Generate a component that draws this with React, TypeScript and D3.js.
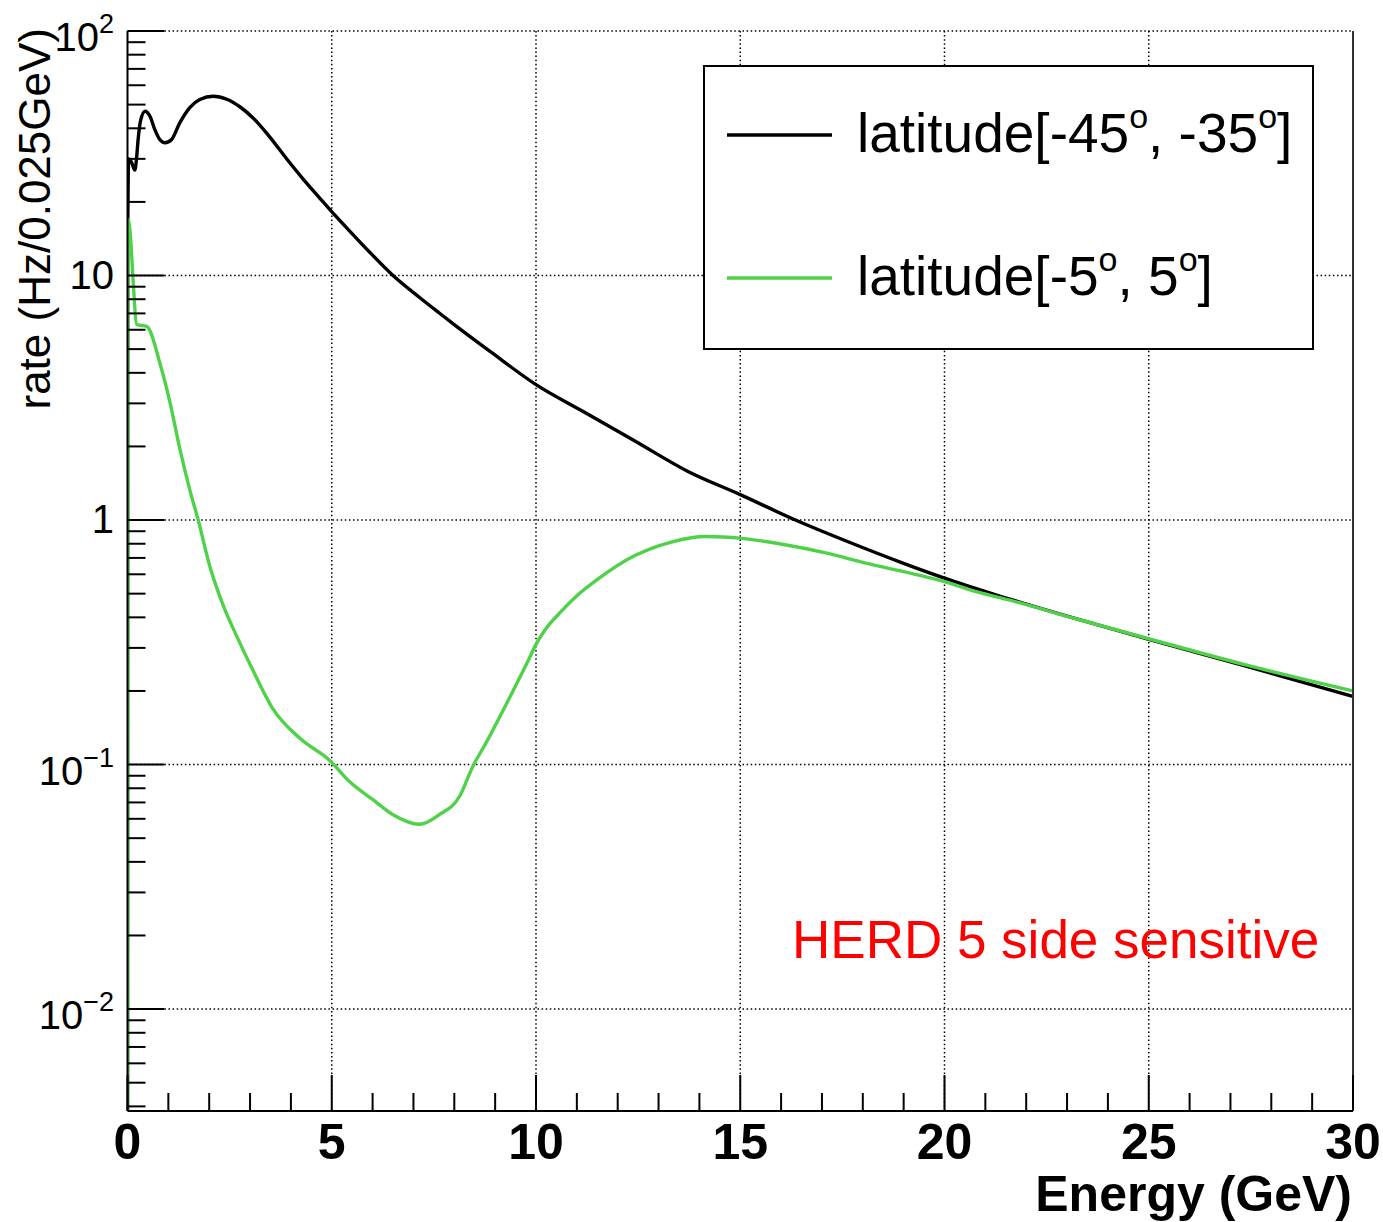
import React, { useEffect, useRef } from 'react';
import * as d3 from 'd3';

// latitude [-45, -35] (black)
const energyBlack = [0, 0.005, 0.03, 0.1, 0.18, 0.22, 0.26, 0.32, 0.43, 0.55, 0.67, 0.79, 0.92, 1.08, 1.28, 1.53, 1.77, 2.1, 2.43, 2.75, 3.08, 3.48, 3.89, 4.3, 4.71, 5.11, 5.52, 5.93, 6.5, 7.15, 7.64, 8.03, 8.9, 10.0, 11.1, 12.41, 13.72, 15.0, 16.35, 17.67, 18.98, 20.0, 21.2, 23.28, 25.0, 27.4, 30.0];
const rateBlack = [0.001, 14, 30, 29, 27, 30, 36, 43, 47, 44.8, 39.5, 36, 34.9, 36, 42.1, 48.7, 52.5, 54.1, 52.6, 49.0, 44.0, 36.9, 30.1, 24.8, 20.7, 17.4, 14.7, 12.45, 10.0, 8.13, 7.01, 6.24, 4.86, 3.58, 2.81, 2.11, 1.58, 1.27, 1.0, 0.811, 0.667, 0.579, 0.498, 0.392, 0.325, 0.252, 0.19];

// latitude [-5, 5] (green)
const energyGreen = [0, 0.005, 0.08, 0.13, 0.23, 0.47, 0.8, 1.04, 1.28, 1.53, 1.73, 2.02, 2.34, 2.67, 3.07, 3.56, 4.22, 4.95, 5.44, 6.0, 6.49, 7.15, 7.64, 8.13, 8.45, 8.78, 9.34, 9.78, 10.0, 10.22, 10.6, 11.0, 11.53, 12.41, 13.29, 14.16, 15.04, 16.06, 17.09, 18.1, 19.0, 19.96, 20.8, 21.6, 23.28, 25.0, 27.4, 30.0];
const rateGreen = [0.001, 17, 14, 10, 6.3, 6.2, 4.34, 3.03, 1.96, 1.32, 1.0, 0.643, 0.449, 0.336, 0.243, 0.169, 0.128, 0.104, 0.085, 0.072, 0.0625, 0.057, 0.0625, 0.0742, 0.098, 0.123, 0.186, 0.26, 0.31, 0.355, 0.42, 0.49, 0.576, 0.714, 0.811, 0.856, 0.841, 0.794, 0.734, 0.665, 0.615, 0.562, 0.508, 0.47, 0.392, 0.327, 0.255, 0.2];

const xTickValues = [0, 5, 10, 15, 20, 25, 30];
const yTickValues = [100, 10, 1, 0.1, 0.01];
const yTickBase = ['10', '10', '1', '10', '10'];
const yTickExp = ['2', '', '', '\u22121', '\u22122'];

const seriesNames = [
  [['latitude[-45', false], ['o', true], [', -35', false], ['o', true], [']', false]],
  [['latitude[-5', false], ['o', true], [', 5', false], ['o', true], [']', false]],
];
const seriesColors = ['#000000', '#4fd24a'];

const FONT = '"Liberation Sans", Arial, Helvetica, sans-serif';

const App = () => {
  const svgRef = useRef(null);

  useEffect(() => {
    const svg = d3.select(svgRef.current);
    svg.selectAll('*').remove();

    const left = 127.5, right = 1353, top = 31, bottom = 1111;

    const x = d3.scaleLinear().domain([0, 30]).range([left, right]);
    const y = d3.scaleLog().domain([0.00383, 100]).range([bottom, top]);

    svg.append('rect').attr('width', 1383).attr('height', 1222).attr('fill', '#fff');

    svg.append('clipPath').attr('id', 'plotclip')
      .append('rect')
      .attr('x', left).attr('y', top)
      .attr('width', right - left).attr('height', bottom - top);

    // grid (dotted)
    const grid = svg.append('g')
      .attr('stroke', '#000')
      .attr('stroke-width', 1.5)
      .attr('stroke-dasharray', '1.5 2.6');
    xTickValues.slice(1, -1).forEach((v) => {
      grid.append('line').attr('x1', x(v)).attr('x2', x(v)).attr('y1', top).attr('y2', bottom);
    });
    yTickValues.forEach((v) => {
      grid.append('line').attr('x1', left).attr('x2', right).attr('y1', y(v)).attr('y2', y(v));
    });

    // curves
    const plot = svg.append('g').attr('clip-path', 'url(#plotclip)');
    const line = d3.line()
      .x((d) => x(d[0]))
      .y((d) => y(d[1]))
      .curve(d3.curveMonotoneX);

    const blackPts = energyBlack.map((e, i) => [e, rateBlack[i]]);
    const greenPts = energyGreen.map((e, i) => [e, rateGreen[i]]);

    plot.append('path').attr('d', line(blackPts))
      .attr('fill', 'none').attr('stroke', seriesColors[0]).attr('stroke-width', 3.4)
      .attr('stroke-linejoin', 'round');
    plot.append('path').attr('d', line(greenPts))
      .attr('fill', 'none').attr('stroke', seriesColors[1]).attr('stroke-width', 3.4)
      .attr('stroke-linejoin', 'round');

    // frame
    const frame = svg.append('g').attr('stroke', '#000').attr('stroke-width', 2);
    frame.append('line').attr('x1', left).attr('x2', left).attr('y1', top).attr('y2', bottom);
    frame.append('line').attr('x1', left).attr('x2', right).attr('y1', bottom).attr('y2', bottom);
    frame.append('line').attr('x1', right).attr('x2', right).attr('y1', top).attr('y2', bottom).attr('stroke', '#333');

    // y ticks
    const ticks = svg.append('g').attr('stroke', '#000').attr('stroke-width', 2);
    yTickValues.forEach((v) => {
      ticks.append('line').attr('x1', left).attr('x2', left + 37).attr('y1', y(v)).attr('y2', y(v));
    });
    [0.001, 0.01, 0.1, 1, 10].forEach((d) => {
      for (let k = 2; k <= 9; k++) {
        const v = k * d;
        if (v < y.domain()[0] || v > y.domain()[1]) continue;
        ticks.append('line').attr('x1', left).attr('x2', left + 18).attr('y1', y(v)).attr('y2', y(v));
      }
    });

    // x ticks
    d3.range(0, 31).forEach((v) => {
      const major = v % 5 === 0;
      ticks.append('line').attr('x1', x(v)).attr('x2', x(v))
        .attr('y1', bottom).attr('y2', bottom - (major ? 36 : 18));
    });

    // y tick labels
    yTickValues.forEach((v, i) => {
      const hasExp = yTickExp[i] !== '';
      const t = svg.append('text')
        .attr('x', 114)
        .attr('y', y(v) + (hasExp ? 20 : 13))
        .attr('text-anchor', 'end')
        .attr('font-family', FONT)
        .attr('font-size', 40)
        .attr('fill', '#000');
      t.append('tspan').text(yTickBase[i]);
      if (hasExp) {
        t.append('tspan').attr('dy', -18).attr('font-size', 27).text(yTickExp[i]);
      }
    });

    // x tick labels
    xTickValues.forEach((v) => {
      svg.append('text')
        .attr('x', x(v))
        .attr('y', 1159)
        .attr('text-anchor', 'middle')
        .attr('font-family', FONT)
        .attr('font-weight', 'bold')
        .attr('font-size', 50)
        .attr('fill', '#000')
        .text(v);
    });

    // axis titles
    svg.append('text')
      .attr('x', 1352)
      .attr('y', 1211)
      .attr('text-anchor', 'end')
      .attr('font-family', FONT)
      .attr('font-weight', 'bold')
      .attr('font-size', 50)
      .attr('fill', '#000')
      .text('Energy (GeV)');

    svg.append('text')
      .attr('transform', 'translate(50, 28) rotate(-90)')
      .attr('text-anchor', 'end')
      .attr('font-family', FONT)
      .attr('font-size', 44)
      .attr('fill', '#000')
      .text('rate (Hz/0.025GeV)');

    // legend
    const lg = svg.append('g');
    lg.append('rect')
      .attr('x', 704).attr('y', 66).attr('width', 609).attr('height', 283)
      .attr('fill', '#fff').attr('stroke', '#000').attr('stroke-width', 2);
    const rowY = [152, 295];
    seriesNames.forEach((parts, i) => {
      lg.append('line')
        .attr('x1', 727).attr('x2', 832)
        .attr('y1', rowY[i] - 17).attr('y2', rowY[i] - 17)
        .attr('stroke', seriesColors[i]).attr('stroke-width', 3.5);
      const t = lg.append('text')
        .attr('x', 857).attr('y', rowY[i])
        .attr('font-family', FONT)
        .attr('font-size', 55)
        .attr('fill', '#000');
      let raised = false;
      parts.forEach(([s, sup]) => {
        const ts = t.append('tspan').text(s);
        if (sup && !raised) { ts.attr('dy', -24).attr('font-size', 34); raised = true; }
        else if (!sup && raised) { ts.attr('dy', 24); raised = false; }
      });
    });

    svg.append('text')
      .attr('x', 792).attr('y', 958)
      .attr('font-family', FONT)
      .attr('font-size', 53)
      .attr('fill', '#ff0000')
      .text('HERD 5 side sensitive');
  }, []);

  return (
    <svg ref={svgRef} width={1383} height={1222}
      style={{ position: 'absolute', left: 0, top: 0, display: 'block' }} />
  );
};

export default App;
